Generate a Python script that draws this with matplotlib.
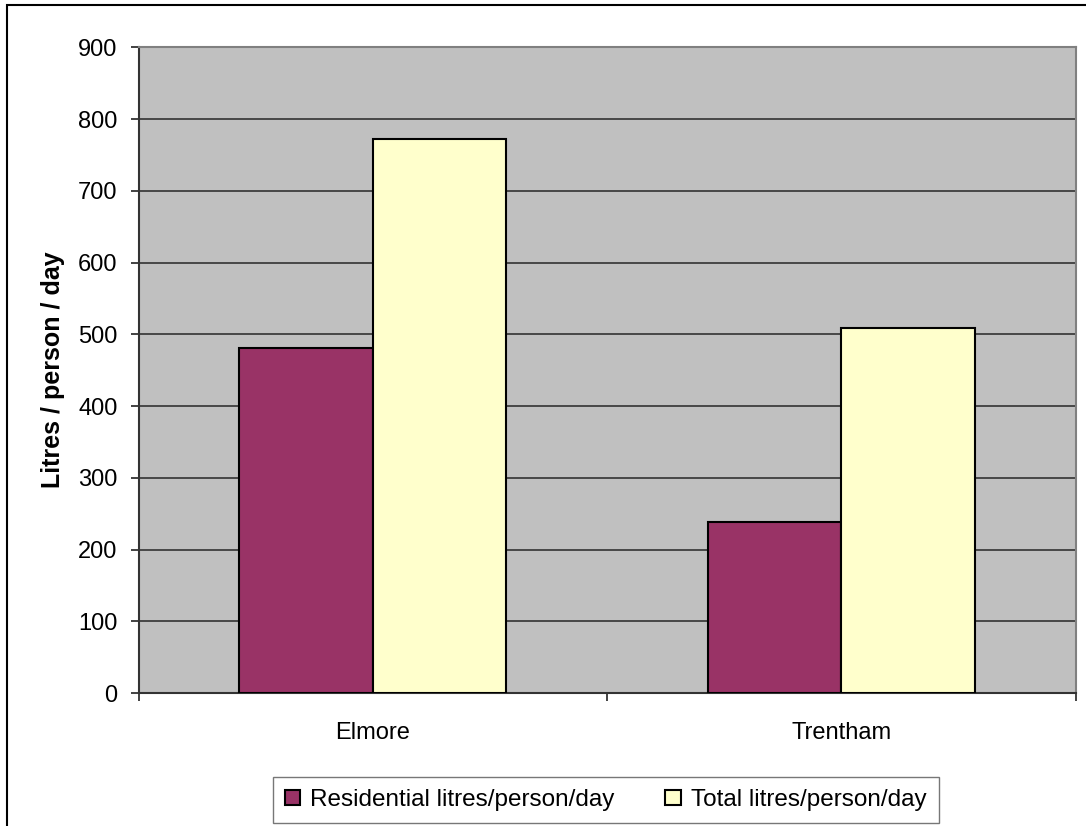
import matplotlib.pyplot as plt
import matplotlib.patches as mpatches
import numpy as np

categories = ["Elmore", "Trentham"]
residential = [481, 238]
total = [772, 509]
series_names = ["Residential litres/person/day", "Total litres/person/day"]
yticks = [0, 100, 200, 300, 400, 500, 600, 700, 800, 900]

plt.rcParams['font.family'] = ["Liberation Sans", "DejaVu Sans"]

fig = plt.figure(figsize=(10.86, 8.26), dpi=100)
ax = fig.add_axes([0.1276, 0.161, 0.8629, 0.7817])
ax.set_facecolor("#C0C0C0")

x = np.arange(len(categories))
w = 0.285
ax.bar(x - w / 2, residential, w, color="#993366", edgecolor="black", linewidth=1.5,
       label=series_names[0], zorder=3)
ax.bar(x + w / 2, total, w, color="#FFFFCC", edgecolor="black", linewidth=1.5,
       label=series_names[1], zorder=3)

ax.set_xlim(-0.5, 1.5)
ax.set_ylim(0, 900)
ax.set_yticks(yticks)
ax.yaxis.grid(True, color="#333333", linewidth=1.2, zorder=1)
ax.set_axisbelow(True)

# category boundaries as major ticks, names as minor ticks
ax.set_xticks([-0.5, 0.5, 1.5])
ax.set_xticklabels([])
ax.set_xticks(x, minor=True)
ax.set_xticklabels(categories, minor=True, fontsize=17)
ax.tick_params(axis="x", which="major", direction="out", length=6, width=1.2, color="#222222")
ax.tick_params(axis="x", which="minor", length=0, pad=21)
ax.tick_params(axis="y", direction="out", length=6, width=1.2, color="#222222",
               labelsize=17, pad=9)

for side in ["top", "right"]:
    ax.spines[side].set_color("#808080")
    ax.spines[side].set_linewidth(1.5)
for side in ["left", "bottom"]:
    ax.spines[side].set_color("#333333")
    ax.spines[side].set_linewidth(1.5)

ax.set_ylabel("Litres / person / day", fontsize=18, fontweight="bold")
ax.yaxis.set_label_coords(-0.079, 0.5)

leg = fig.legend(loc="center", bbox_to_anchor=(0.5576, 0.0315), ncol=2,
                 fontsize=17.5, frameon=True, fancybox=False, edgecolor="#555555",
                 handlelength=0.62, handleheight=0.58, handletextpad=0.42,
                 columnspacing=2.1, borderpad=0.5, borderaxespad=0)
leg.get_frame().set_linewidth(1.0)

# outer chart border (only top and left visible)
fig.patches.append(mpatches.Rectangle((7 / 1086, -0.1), 1.2, 0.1 + 1 - 5 / 826,
                                      transform=fig.transFigure, fill=False,
                                      edgecolor="black", linewidth=1.5))

plt.savefig("out.png", dpi=100)
plt.close()
